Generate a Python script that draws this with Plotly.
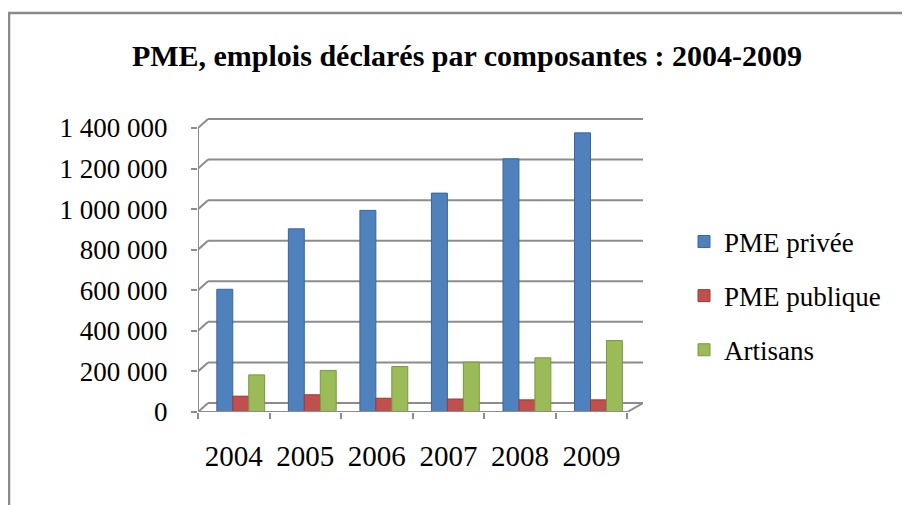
import plotly.graph_objects as go

years = ["2004", "2005", "2006", "2007", "2008", "2009"]
pme_privee = [605000, 903000, 994000, 1079000, 1248000, 1376000]
pme_publique = [78000, 85000, 68000, 64000, 60000, 60000]
artisans = [183000, 205000, 224000, 246000, 267000, 352000]
y_ticks = [0, 200000, 400000, 600000, 800000, 1000000, 1200000, 1400000]
y_tick_text = ["0", "200 000", "400 000", "600 000", "800 000", "1 000 000", "1 200 000", "1 400 000"]

FONT = "Liberation Serif, Times New Roman, serif"
GRID = "#8c8c8c"

series = [
    ("PME privée", pme_privee, "#4F81BD", "#3A679C", -0.237),
    ("PME publique", pme_publique, "#C0504D", "#9B3B39", -0.014),
    ("Artisans", artisans, "#9BBB59", "#7A9844", 0.209),
]

fig = go.Figure()
for i, (name, vals, col, line, off) in enumerate(series):
    fig.add_trace(go.Bar(
        x=years, y=vals, name=name, legendgroup=str(i),
        marker=dict(color=col, line=dict(color=line, width=1)),
        width=0.223, offset=off,
    ))

ymax_front = 1400000
yr_top = ymax_front * 300 / 284
back_dy = 9 / 284 * ymax_front
back_dx = 0.14
x_left = -0.5
x_right = 5.72
x_front_right = 5.5

# page offset of the plot div (body margin) compensated below
OFF = 8

shapes = []
for v in y_ticks:
    shapes.append(dict(type="line", xref="x", yref="y", x0=x_left + back_dx, x1=x_right,
                       y0=v + back_dy, y1=v + back_dy, line=dict(color=GRID, width=2), layer="below"))
    shapes.append(dict(type="line", xref="x", yref="y", x0=x_left, x1=x_left + back_dx,
                       y0=v, y1=v + back_dy, line=dict(color=GRID, width=2), layer="below"))
shapes.append(dict(type="line", xref="x", yref="y", x0=x_left, x1=x_front_right, y0=0, y1=0,
                   line=dict(color=GRID, width=2)))
shapes.append(dict(type="line", xref="x", yref="y", x0=x_front_right, x1=x_right, y0=0, y1=back_dy,
                   line=dict(color=GRID, width=2)))
shapes.append(dict(type="line", xref="x", yref="y", x0=x_left, x1=x_left, y0=0, y1=ymax_front,
                   line=dict(color=GRID, width=2)))
shapes.append(dict(type="rect", xref="paper", yref="paper",
                   x0=(9 - 198) / 445, x1=(940 - 198) / 445,
                   y0=(412 - 540) / 300, y1=(412 - 13) / 300,
                   line=dict(color="#8a8a8a", width=2.5), fillcolor="rgba(0,0,0,0)", layer="below"))

fig.update_layout(
    width=910, height=505,
    margin=dict(l=198 - OFF, r=267 + OFF, t=112 - OFF, b=93 + OFF),
    paper_bgcolor="white", plot_bgcolor="white",
    barmode="overlay",
    title=dict(text="<b>PME, emplois déclarés par composantes : 2004-2009</b>",
               x=(467 - OFF) / 910, xref="container", xanchor="center",
               y=1 - (55 - OFF) / 505, yref="container", yanchor="middle",
               font=dict(family=FONT, size=30, color="black")),
    xaxis=dict(type="category", range=[x_left, x_right], showgrid=False, showline=False,
               zeroline=False, ticks="outside", tickson="boundaries", ticklen=6,
               tickcolor=GRID, tickwidth=2, ticklabelstandoff=24,
               tickfont=dict(family=FONT, size=29, color="black")),
    yaxis=dict(range=[0, yr_top], tickvals=y_ticks, ticktext=y_tick_text,
               showgrid=False, zeroline=False, showline=False,
               ticks="outside", ticklen=6, tickcolor=GRID, tickwidth=2,
               ticklabelstandoff=18,
               tickfont=dict(family=FONT, size=27, color="black")),
    legend=dict(x=(684 - 198) / 445, xanchor="left", y=(412 - 296) / 300, yanchor="middle",
                traceorder="grouped", tracegroupgap=16, itemwidth=30,
                font=dict(family=FONT, size=27, color="black"), bgcolor="rgba(0,0,0,0)"),
    shapes=shapes,
    showlegend=True,
)

fig.write_html("out.html")
